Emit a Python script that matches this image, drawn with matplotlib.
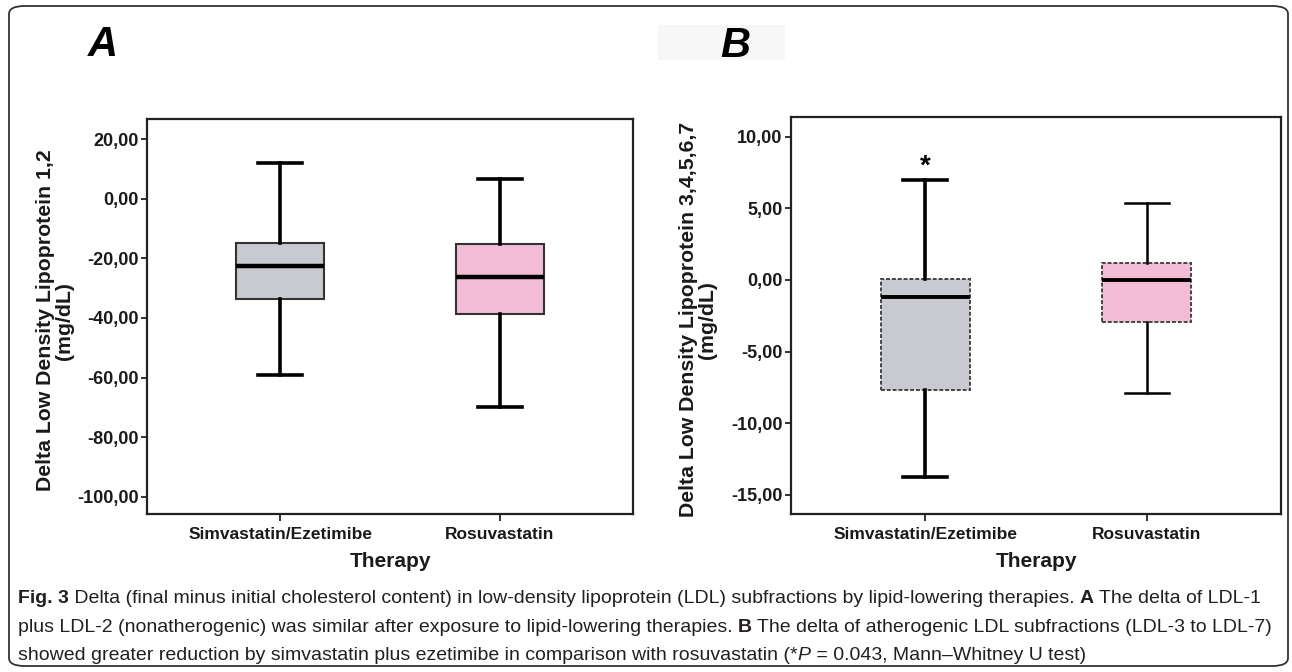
import matplotlib
matplotlib.use('Agg')
import matplotlib.pyplot as plt
from matplotlib.patches import FancyBboxPatch, Rectangle
from matplotlib.transforms import offset_copy

plt.rcParams['font.family'] = ['Liberation Sans', 'DejaVu Sans']

# ---- data ----
therapies = ['Simvastatin/Ezetimibe', 'Rosuvastatin']

# Panel A: delta LDL 1,2 (mg/dL)
a_whislo = [-59.3, -70.0]
a_q1 = [-33.5, -38.8]
a_med = [-22.6, -26.4]
a_q3 = [-14.7, -15.3]
a_whishi = [11.9, 6.6]

# Panel B: delta LDL 3,4,5,6,7 (mg/dL)
b_whislo = [-13.75, -7.9]
b_q1 = [-7.7, -2.9]
b_med = [-1.2, 0.0]
b_q3 = [0.05, 1.15]
b_whishi = [7.0, 5.4]
b_star_y = 8.25  # significance mark above simvastatin/ezetimibe

a_ticks = [20, 0, -20, -40, -60, -80, -100]
b_ticks = [10, 5, 0, -5, -10, -15]

box_colors = ['#c9cacf', '#f2bcd4']

caption_lines = [
    [('Fig. 3', 'bold', 'normal'),
     (' Delta (final minus initial cholesterol content) in low-density lipoprotein (LDL) '
      'subfractions by lipid-lowering therapies. ', 'normal', 'normal'),
     ('A', 'bold', 'normal'),
     (' The delta of LDL-1', 'normal', 'normal')],
    [('plus LDL-2 (nonatherogenic) was similar after exposure to lipid-lowering therapies. ',
      'normal', 'normal'),
     ('B', 'bold', 'normal'),
     (' The delta of atherogenic LDL subfractions (LDL-3 to LDL-7)', 'normal', 'normal')],
    [('showed greater reduction by simvastatin plus ezetimibe in comparison with rosuvastatin (*',
      'normal', 'normal'),
     ('P', 'normal', 'italic'),
     (' = 0.043, Mann\u2013Whitney U test)', 'normal', 'normal')],
]


def make_stats(whislo, q1, med, q3, whishi):
    return [dict(whislo=whislo[i], q1=q1[i], med=med[i], q3=q3[i], whishi=whishi[i],
                 fliers=[]) for i in range(len(med))]


def style_axes(ax, ticks, ylim, ylabel):
    ax.set_xlim(0.394, 2.606)
    ax.set_ylim(*ylim)
    ax.set_yticks(ticks)
    ax.set_yticklabels([f'{t:.2f}'.replace('.', ',') for t in ticks])
    ax.set_xticks([1, 2])
    ax.set_xticklabels(therapies)
    for sp in ax.spines.values():
        sp.set_linewidth(1.6)
        sp.set_color('#222222')
    ax.tick_params(axis='y', length=4.5, width=1.3, pad=1.5, labelsize=13, color='#222222')
    ax.tick_params(axis='x', length=5, width=1.3, pad=4.5, labelsize=12.5, color='#222222')
    for lab in ax.get_yticklabels() + ax.get_xticklabels():
        lab.set_fontweight('bold')
        lab.set_color('#1a1a1a')
    ax.set_ylabel(ylabel, fontsize=15.3, fontweight='bold', color='#1a1a1a',
                  linespacing=1.0)
    ax.yaxis.set_label_coords(-0.150, 0.49)
    ax.set_xlabel('Therapy', fontsize=15, fontweight='bold', color='#1a1a1a')
    ax.xaxis.set_label_coords(0.5, -0.095)


fig = plt.figure(figsize=(12.92, 6.72), dpi=100)

# outer rounded frame
frame = FancyBboxPatch((9 / 1292, 6 / 672), 1279 / 1292, 660 / 672,
                       boxstyle='round,pad=0,rounding_size=0.012',
                       transform=fig.transFigure, fill=False,
                       edgecolor='#333333', linewidth=1.3)
fig.patches.append(frame)
fig.patches.append(Rectangle((658 / 1292, 1 - 60 / 672), 127 / 1292, 35 / 672,
                             transform=fig.transFigure, facecolor='#f7f7f7',
                             edgecolor='none', zorder=0))

axA = fig.add_axes([147 / 1292, 1 - 514.3 / 672, 486 / 1292, 395.3 / 672])
axB = fig.add_axes([791 / 1292, 1 - 514.3 / 672, 490 / 1292, 397.3 / 672])

# panel A boxes
bpA = axA.bxp(make_stats(a_whislo, a_q1, a_med, a_q3, a_whishi), positions=[1, 2],
              widths=0.40, patch_artist=True, showfliers=False,
              boxprops=dict(linewidth=1.5, edgecolor='#333333'),
              medianprops=dict(color='black', linewidth=3.2),
              whiskerprops=dict(color='black', linewidth=2.6),
              capprops=dict(color='black', linewidth=2.6),
              capwidths=0.20)
for patch, c in zip(bpA['boxes'], box_colors):
    patch.set_facecolor(c)

# panel B boxes
bpB = axB.bxp(make_stats(b_whislo, b_q1, b_med, b_q3, b_whishi), positions=[1, 2],
              widths=0.40, patch_artist=True, showfliers=False,
              boxprops=dict(linewidth=1.4, edgecolor='#444444', linestyle=(0, (2, 1))),
              medianprops=dict(color='black', linewidth=2.8),
              whiskerprops=dict(color='black', linewidth=2.6),
              capprops=dict(color='black', linewidth=2.6),
              capwidths=0.20)
for patch, c in zip(bpB['boxes'], box_colors):
    patch.set_facecolor(c)
# thinner whiskers for rosuvastatin in panel B
for ln in bpB['whiskers'][2:] + bpB['caps'][2:]:
    ln.set_linewidth(1.8)

star_tr = offset_copy(axB.transData, fig=fig, x=0, y=-5, units='dots')
axB.text(1, b_star_y, '*', ha='center', va='center', fontsize=20, fontweight='bold',
         transform=star_tr)

style_axes(axA, a_ticks, (-105.9, 26.8), 'Delta Low Density Lipoprotein 1,2\n(mg/dL)')
style_axes(axB, b_ticks, (-16.35, 11.37), 'Delta Low Density Lipoprotein 3,4,5,6,7\n(mg/dL)')

# panel letters
fig.text(88 / 1292, 1 - 56 / 672, 'A', fontsize=30, fontweight='bold', fontstyle='italic',
         ha='left', va='baseline')
fig.text(720 / 1292, 1 - 57 / 672, 'B', fontsize=30, fontweight='bold', fontstyle='italic',
         ha='left', va='baseline')

# caption, drawn run by run
cap_family = ['Liberation Sans Narrow', 'Liberation Sans', 'DejaVu Sans']
renderer = fig.canvas.get_renderer()
baselines = [603, 632, 660]
for runs, yb in zip(caption_lines, baselines):
    x = 18
    for s, weight, style in runs:
        t = fig.text(x / 1292, 1 - yb / 672, s, fontsize=14, fontweight=weight,
                     fontstyle=style, family=cap_family, color='#231f20',
                     ha='left', va='baseline')
        x += t.get_window_extent(renderer).width

fig.savefig('out.png', dpi=100)
